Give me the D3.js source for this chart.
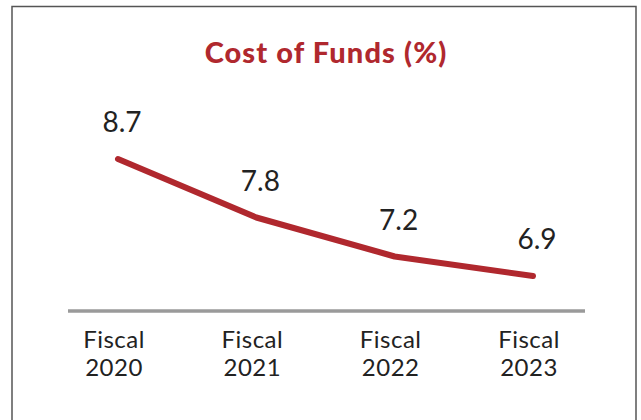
<!DOCTYPE html>
<html><head><meta charset="utf-8">
<script src="https://cdn.jsdelivr.net/npm/d3@7"></script>
<style>html,body{margin:0;padding:0;background:#fff;}svg{display:block;}</style>
</head><body>
<svg id="c" width="641" height="420"></svg>
<script>
const categories = ["Fiscal 2020", "Fiscal 2021", "Fiscal 2022", "Fiscal 2023"];
const tickLine1 = ["Fiscal", "Fiscal", "Fiscal", "Fiscal"];
const tickLine2 = ["2020", "2021", "2022", "2023"];
const values = [8.7, 7.8, 7.2, 6.9];
const title = "Cost of Funds (%)";

const svg = d3.select("#c");
const red = "#b0282e";
const font = "Lato, 'Open Sans', sans-serif";

// frame
svg.append("rect").attr("x", 12).attr("y", 6.5).attr("width", 624).attr("height", 420)
  .attr("fill", "none").attr("stroke", "#555").attr("stroke-width", 1.5);

svg.append("text").attr("x", 326).attr("y", 63).attr("text-anchor", "middle")
  .attr("font-family", font).attr("font-weight", 900).attr("font-size", 29)
  .attr("letter-spacing", 1.1)
  .attr("fill", red).text(title);

const x = d3.scalePoint().domain(categories).range([118, 533]);
const y = d3.scaleLinear().domain([6.9, 8.7]).range([276, 159]);

// baseline axis line
svg.append("line").attr("x1", 68).attr("x2", 585).attr("y1", 311).attr("y2", 311)
  .attr("stroke", "#9a9a9a").attr("stroke-width", 3.5);

const data = categories.map((c, i) => ({c, v: values[i], l1: tickLine1[i], l2: tickLine2[i]}));

svg.append("path").datum(data)
  .attr("d", d3.line().x(d => x(d.c)).y(d => y(d.v)))
  .attr("fill", "none").attr("stroke", red).attr("stroke-width", 6)
  .attr("stroke-linecap", "round").attr("stroke-linejoin", "round");

svg.selectAll("text.val").data(data).enter().append("text").attr("class", "val")
  .attr("x", d => x(d.c) + 4).attr("y", d => y(d.v) - 27)
  .attr("text-anchor", "middle").attr("font-family", font).attr("font-size", 28)
  .attr("fill", "#222").text(d => d.v.toFixed(1));

const ticks = svg.selectAll("g.tick").data(data).enter().append("g").attr("class", "tick")
  .attr("transform", d => `translate(${x(d.c) - 4},0)`);
ticks.append("text").attr("y", 348).attr("text-anchor", "middle")
  .attr("font-family", font).attr("font-size", 24).attr("letter-spacing", 0.5)
  .attr("fill", "#222").text(d => d.l1);
ticks.append("text").attr("y", 376).attr("text-anchor", "middle")
  .attr("font-family", font).attr("font-size", 24).attr("letter-spacing", 0.5)
  .attr("fill", "#222").text(d => d.l2);
</script>
</body></html>
